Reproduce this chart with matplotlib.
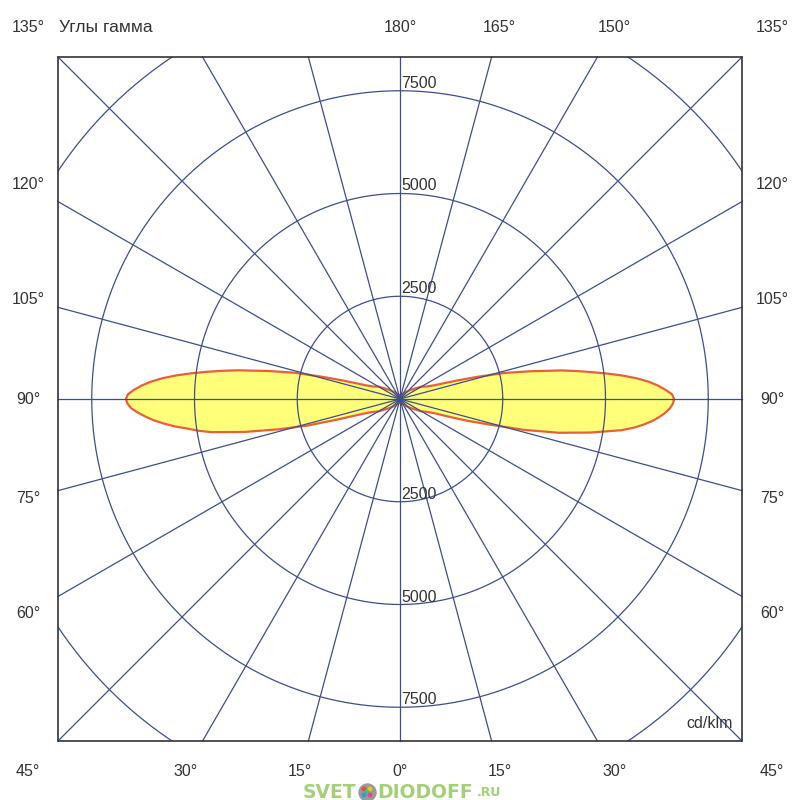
import numpy as np
import matplotlib
matplotlib.use("Agg")
import matplotlib.pyplot as plt
from matplotlib.patches import Rectangle

plt.rcParams['font.family'] = ['Liberation Sans', 'DejaVu Sans']

# gamma angles (deg, 0 = down, 180 = up) and intensity, cd/klm
gamma = [0, 10, 20, 30, 40, 50, 60, 65, 68, 70, 72, 74, 76, 78, 80, 81, 82, 83, 84,
         85, 86, 87, 88, 89, 90, 91, 92, 93, 94, 95, 96, 97, 98, 99, 100, 102, 104,
         106, 108, 110, 112, 115, 120, 130, 140, 150, 160, 170, 180]
c0 = [80, 90, 110, 150, 220, 350, 600, 750, 950, 1250, 1700, 2250, 3100, 3950, 4700,
      5050, 5450, 5730, 5960, 6160, 6320, 6460, 6570, 6640, 6670, 6620, 6460, 6280,
      6060, 5780, 5450, 5080, 4700, 4350, 4000, 3250, 2620, 1950, 1450, 1100, 880,
      720, 600, 350, 220, 150, 110, 90, 80]
c180 = [80, 90, 110, 150, 220, 350, 600, 750, 950, 1200, 1650, 2350, 3050, 3850, 4650,
        4950, 5200, 5500, 5760, 6000, 6200, 6380, 6540, 6630, 6670, 6620, 6470, 6290,
        6070, 5800, 5480, 5120, 4750, 4380, 4020, 3280, 2640, 1950, 1450, 1100, 880,
        720, 600, 350, 220, 150, 110, 90, 80]

rings = [2500, 5000, 7500, 10000]
ring_labels = ["2500", "5000", "7500"]
ray_step = 15

top_labels = ["135°", "180°", "165°", "150°", "135°"]
top_angles = [-135, 180, 165, 150, 135]      # signed: negative = left half
side_labels = [120, 105, 90, 75, 60]
bottom_labels = [45, 30, 15, 0, 15, 30, 45]
bottom_angles = [-45, -30, -15, 0, 15, 30, 45]

PX = 0.0411          # pixels per cd/klm
BOX = 342 / PX
LAB = 372 / PX
GRID = '#3d4f8a'
TXT = '#333333'

fig = plt.figure(figsize=(8, 8), dpi=100)
ax = fig.add_axes([0, 0, 1, 1])
ax.set_xlim(-400 / PX, 400 / PX)
ax.set_ylim(-401 / PX, 399 / PX)
ax.axis('off')

box = Rectangle((-BOX, -BOX), 2 * BOX, 2 * BOX, fill=False, ec='#333333', lw=1.2, zorder=5)
ax.add_patch(box)

# luminous intensity curve (C0 right, C180 left)
g = np.radians(gamma)
xr = np.array(c0) * np.sin(g)
yr = -np.array(c0) * np.cos(g)
xl = -np.array(c180) * np.sin(g)
yl = -np.array(c180) * np.cos(g)
xs = np.concatenate([xr, xl[::-1]])
ys = np.concatenate([yr, yl[::-1]])
ax.fill(xs, ys, color='#ffff7a', zorder=1)
ax.plot(xs, ys, color='#e8603a', lw=1.6, solid_joinstyle='round', zorder=2)

# rings
t = np.linspace(0, 2 * np.pi, 721)
for r in rings:
    ln, = ax.plot(r * np.cos(t), r * np.sin(t), color=GRID, lw=0.9, zorder=3)
    ln.set_clip_path(box)

# rays
for a in range(0, 360, ray_step):
    ar = np.radians(a)
    dx, dy = np.sin(ar), -np.cos(ar)
    k = BOX / max(abs(dx), abs(dy))
    ax.plot([0, k * dx], [0, k * dy], color=GRID, lw=0.9, zorder=3)

for r, lab in zip(rings, ring_labels):
    ax.text(30, r, lab, ha='left', va='bottom', fontsize=11.5, color=TXT, zorder=6)
    ax.text(30, -r, lab, ha='left', va='bottom', fontsize=11.5, color=TXT, zorder=6)


def edge_point(a_signed):
    ar = np.radians(abs(a_signed))
    dx, dy = np.sin(ar) * np.sign(a_signed if a_signed != 0 else 1), -np.cos(ar)
    k = LAB / max(abs(dx), abs(dy))
    return k * dx, k * dy


for lab, a in zip(top_labels, top_angles):
    x, y = edge_point(a)
    ax.text(x, y, lab, ha='center', va='center', fontsize=11.5, color=TXT)

for a in side_labels:
    for s in (-1, 1):
        x, y = edge_point(s * a)
        ax.text(x, y, f"{a}°", ha='center', va='center', fontsize=11.5, color=TXT)

for lab, a in zip(bottom_labels, bottom_angles):
    x, y = edge_point(a)
    ax.text(x, y, f"{lab}°", ha='center', va='center', fontsize=11.5, color=TXT)

ax.text(-BOX + 1 / PX, LAB, "Углы гамма", ha='left', va='center', fontsize=12.5, color=TXT)
ax.text(333 / PX, -325 / PX, "cd/klm", ha='right', va='center', fontsize=11.5, color=TXT)

# watermark
green = '#a3cf76'
wy = -393 / PX
ax.text(-97 / PX, wy, "SVET", ha='left', va='center', fontsize=13.5, fontweight='bold',
        color=green, family='DejaVu Sans')
ax.scatter([-33 / PX], [wy], s=150, color='#9a9a9a', zorder=7)
ax.scatter([-36 / PX, -30 / PX, -33 / PX, -36 / PX, -30 / PX],
           [wy + 3 / PX, wy + 3 / PX, wy, wy - 3 / PX, wy - 3 / PX],
           s=6, color=['#e74c3c', '#f1c40f', '#2ecc71', '#3498db', '#e84393'], zorder=8)
ax.text(-23 / PX, wy, "DIODOFF", ha='left', va='center', fontsize=13.5, fontweight='bold',
        color=green, family='DejaVu Sans')
ax.text(77 / PX, wy - 1 / PX, ".RU", ha='left', va='center', fontsize=9, fontweight='bold',
        color=green, family='DejaVu Sans')

fig.savefig("out.png", dpi=100)
